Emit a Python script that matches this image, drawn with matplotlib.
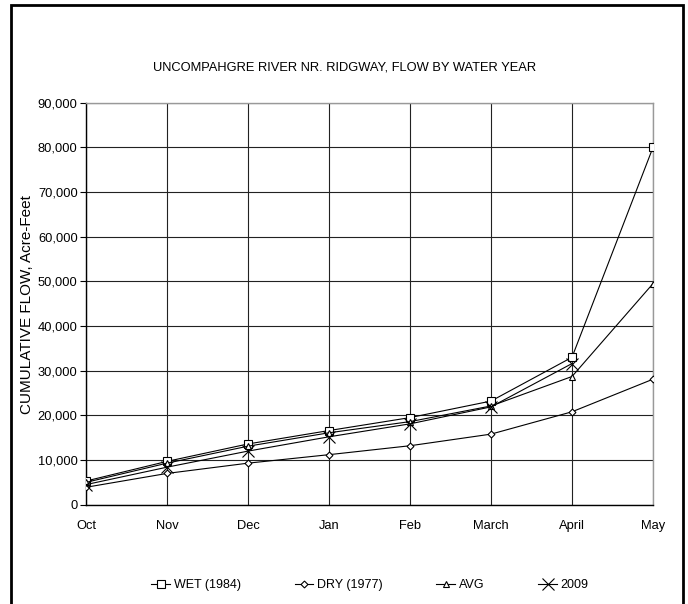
import matplotlib
matplotlib.use("Agg")
import matplotlib.pyplot as plt
from matplotlib.ticker import FuncFormatter, MultipleLocator
from matplotlib.patches import Rectangle

plt.rcParams['font.family'] = ['Liberation Sans', 'DejaVu Sans']

months = ["Oct", "Nov", "Dec", "Jan", "Feb", "March", "April", "May"]
wet_1984 = [5300, 9700, 13600, 16600, 19500, 23200, 33000, 80000]
dry_1977 = [3900, 7000, 9300, 11200, 13200, 15800, 20800, 28100]
avg_flow = [5000, 9300, 13100, 16100, 18600, 22100, 28700, 49500]
wy_2009 = [4500, 8400, 12000, 15200, 18100, 21900, 31600]

title = "UNCOMPAHGRE RIVER NR. RIDGWAY, FLOW BY WATER YEAR"
ylabel = "CUMULATIVE FLOW, Acre-Feet"

fig = plt.figure(figsize=(6.88, 6.04), dpi=100)
fig.patches.append(Rectangle((11 / 688, -0.01), (683 - 11) / 688, 1 - 5 / 604 + 0.01,
                             transform=fig.transFigure, fill=False,
                             edgecolor="black", linewidth=2.0))

ax = fig.add_axes([86 / 688, 1 - 504.7 / 604, (653 - 86) / 688, (504.7 - 102.7) / 604])

x = list(range(len(months)))
lw = 0.8
ax.plot(x, wet_1984, color="black", lw=lw, marker="s", ms=6, mfc="white",
        mec="black", mew=0.8, label="WET (1984)", zorder=4)
ax.plot(x, dry_1977, color="black", lw=lw, marker="D", ms=3.5, mfc="white",
        mec="black", mew=0.8, label="DRY (1977)", zorder=4)
ax.plot(x, avg_flow, color="black", lw=lw, marker="^", ms=5, mfc="white",
        mec="black", mew=0.8, label="AVG", zorder=4)
ax.plot(x[:len(wy_2009)], wy_2009, color="black", lw=lw, marker="x", ms=9,
        mec="black", mew=0.8, label="2009", zorder=4)

ax.set_xlim(0, len(months) - 1)
ax.set_ylim(0, 90000)
ax.yaxis.set_major_locator(MultipleLocator(10000))
ax.yaxis.set_major_formatter(FuncFormatter(lambda v, p: f"{int(v):,}"))
ax.set_xticks(x)
ax.set_xticklabels(months)

ax.grid(True, axis="both", color="#222222", linewidth=0.8, zorder=1)
for s in ["top", "right"]:
    ax.spines[s].set_color("#999999")
    ax.spines[s].set_linewidth(1.0)
for s in ["left", "bottom"]:
    ax.spines[s].set_color("black")
    ax.spines[s].set_linewidth(1.0)

ax.tick_params(axis="y", direction="out", length=4, width=0.8, labelsize=9.3, pad=2)
ax.tick_params(axis="x", length=0, labelsize=9.3, pad=11)

fig.text(345 / 688, 1 - 68 / 604, title, ha="center", va="center", fontsize=9.3)
fig.text(27 / 688, 1 - 305 / 604, ylabel, ha="center", va="center",
         rotation=90, fontsize=11)

leg = fig.legend(loc="center", bbox_to_anchor=(370 / 688, 1 - 585 / 604), ncol=4,
                 frameon=False, fontsize=9, handlelength=1.5, columnspacing=4.3,
                 handletextpad=0.3)

fig.savefig("out.png", dpi=100)
